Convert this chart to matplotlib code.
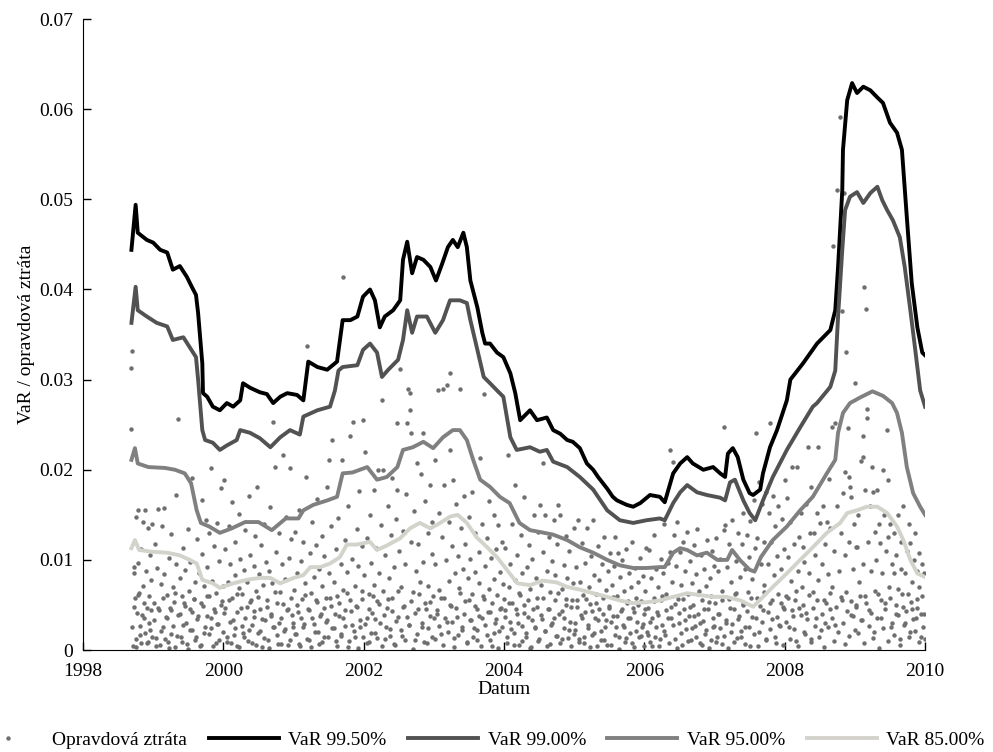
"""
VaR estimates at four confidence levels against the realised daily loss.
Dates are decimal years, losses in basis points for the dot series.
"""
import matplotlib
matplotlib.use("Agg")
import matplotlib.pyplot as plt
from matplotlib.ticker import FuncFormatter
import numpy as np

# realised daily losses (only loss days are drawn)
loss_date = [
    1998.68, 1998.69, 1998.70, 1998.71, 1998.72, 1998.73, 1998.74, 1998.75, 1998.76, 1998.77,
    1998.78, 1998.79, 1998.80, 1998.81, 1998.82, 1998.83, 1998.85, 1998.86, 1998.87, 1998.88,
    1998.89, 1998.90, 1998.91, 1998.92, 1998.93, 1998.94, 1998.95, 1998.96, 1998.97, 1998.98,
    1999.01, 1999.02, 1999.04, 1999.05, 1999.07, 1999.08, 1999.09, 1999.11, 1999.12, 1999.14,
    1999.15, 1999.16, 1999.18, 1999.19, 1999.21, 1999.22, 1999.24, 1999.25, 1999.26, 1999.28,
    1999.29, 1999.31, 1999.32, 1999.33, 1999.35, 1999.36, 1999.38, 1999.39, 1999.41, 1999.42,
    1999.43, 1999.45, 1999.46, 1999.48, 1999.49, 1999.51, 1999.52, 1999.53, 1999.55, 1999.56,
    1999.58, 1999.59, 1999.60, 1999.62, 1999.63, 1999.65, 1999.66, 1999.68, 1999.69, 1999.70,
    1999.72, 1999.73, 1999.75, 1999.76, 1999.77, 1999.79, 1999.80, 1999.82, 1999.83, 1999.84,
    1999.86, 1999.87, 1999.89, 1999.90, 1999.91, 1999.93, 1999.94, 1999.96, 1999.97, 1999.99,
    2000.01, 2000.02, 2000.03, 2000.05, 2000.06, 2000.08, 2000.09, 2000.10, 2000.12, 2000.13,
    2000.15, 2000.16, 2000.17, 2000.19, 2000.20, 2000.22, 2000.23, 2000.24, 2000.26, 2000.27,
    2000.29, 2000.30, 2000.31, 2000.33, 2000.34, 2000.36, 2000.37, 2000.38, 2000.40, 2000.41,
    2000.43, 2000.44, 2000.45, 2000.47, 2000.48, 2000.50, 2000.51, 2000.52, 2000.54, 2000.55,
    2000.57, 2000.58, 2000.59, 2000.61, 2000.62, 2000.64, 2000.65, 2000.66, 2000.68, 2000.69,
    2000.71, 2000.72, 2000.74, 2000.75, 2000.76, 2000.78, 2000.79, 2000.81, 2000.82, 2000.83,
    2000.85, 2000.86, 2000.88, 2000.89, 2000.90, 2000.92, 2000.93, 2000.95, 2000.96, 2000.97,
    2000.99,
    2001.01, 2001.02, 2001.04, 2001.05, 2001.07, 2001.08, 2001.09, 2001.11, 2001.12, 2001.14,
    2001.15, 2001.16, 2001.18, 2001.19, 2001.20, 2001.22, 2001.23, 2001.25, 2001.26, 2001.27,
    2001.29, 2001.30, 2001.32, 2001.33, 2001.34, 2001.36, 2001.37, 2001.39, 2001.40, 2001.41,
    2001.43, 2001.44, 2001.46, 2001.47, 2001.48, 2001.50, 2001.51, 2001.53, 2001.54, 2001.55,
    2001.57, 2001.58, 2001.60, 2001.61, 2001.62, 2001.64, 2001.65, 2001.67, 2001.68, 2001.69,
    2001.70, 2001.71, 2001.73, 2001.74, 2001.76, 2001.77, 2001.78, 2001.80, 2001.81, 2001.83,
    2001.84, 2001.85, 2001.87, 2001.88, 2001.90, 2001.91, 2001.92, 2001.94, 2001.95, 2001.97,
    2001.98, 2001.99,
    2002.01, 2002.02, 2002.04, 2002.05, 2002.07, 2002.08, 2002.09, 2002.11, 2002.12, 2002.14,
    2002.15, 2002.16, 2002.18, 2002.19, 2002.20, 2002.22, 2002.23, 2002.25, 2002.26, 2002.27,
    2002.28, 2002.30, 2002.31, 2002.33, 2002.34, 2002.36, 2002.37, 2002.39, 2002.40, 2002.41,
    2002.43, 2002.44, 2002.46, 2002.47, 2002.47, 2002.49, 2002.50, 2002.52, 2002.53, 2002.54,
    2002.56, 2002.57, 2002.59, 2002.60, 2002.61, 2002.63, 2002.64, 2002.66, 2002.66, 2002.67,
    2002.68, 2002.70, 2002.71, 2002.73, 2002.74, 2002.76, 2002.77, 2002.78, 2002.80, 2002.81,
    2002.83, 2002.84, 2002.85, 2002.87, 2002.88, 2002.90, 2002.91, 2002.92, 2002.94, 2002.95,
    2002.97, 2002.98, 2002.99,
    2003.01, 2003.02, 2003.04, 2003.06, 2003.07, 2003.08, 2003.10, 2003.11, 2003.13, 2003.14,
    2003.15, 2003.17, 2003.18, 2003.19, 2003.21, 2003.22, 2003.23, 2003.23, 2003.25, 2003.26,
    2003.27, 2003.29, 2003.30, 2003.32, 2003.33, 2003.34, 2003.36, 2003.37, 2003.38, 2003.40,
    2003.41, 2003.43, 2003.44, 2003.45, 2003.47, 2003.48, 2003.50, 2003.51, 2003.52, 2003.54,
    2003.55, 2003.57, 2003.58, 2003.59, 2003.61, 2003.62, 2003.64, 2003.65, 2003.66, 2003.68,
    2003.69, 2003.71, 2003.72, 2003.73, 2003.75, 2003.76, 2003.78, 2003.79, 2003.80, 2003.82,
    2003.83, 2003.85, 2003.86, 2003.87, 2003.89, 2003.90, 2003.92, 2003.93, 2003.94, 2003.96,
    2003.97, 2003.99,
    2004.01, 2004.02, 2004.04, 2004.05, 2004.07, 2004.08, 2004.09, 2004.11, 2004.12, 2004.14,
    2004.15, 2004.16, 2004.18, 2004.19, 2004.21, 2004.22, 2004.24, 2004.25, 2004.26, 2004.28,
    2004.29, 2004.31, 2004.32, 2004.34, 2004.35, 2004.37, 2004.38, 2004.40, 2004.41, 2004.42,
    2004.44, 2004.45, 2004.47, 2004.48, 2004.49, 2004.51, 2004.52, 2004.54, 2004.55, 2004.56,
    2004.58, 2004.59, 2004.61, 2004.62, 2004.64, 2004.65, 2004.66, 2004.68, 2004.69, 2004.71,
    2004.72, 2004.73, 2004.75, 2004.76, 2004.77, 2004.79, 2004.80, 2004.82, 2004.83, 2004.85,
    2004.86, 2004.88, 2004.89, 2004.90, 2004.92, 2004.93, 2004.95, 2004.96, 2004.98, 2004.99,
    2005.01, 2005.02, 2005.04, 2005.05, 2005.07, 2005.08, 2005.09, 2005.11, 2005.12, 2005.14,
    2005.15, 2005.16, 2005.18, 2005.19, 2005.21, 2005.22, 2005.24, 2005.25, 2005.27, 2005.28,
    2005.29, 2005.31, 2005.32, 2005.34, 2005.35, 2005.36, 2005.38, 2005.39, 2005.41, 2005.42,
    2005.43, 2005.45, 2005.46, 2005.48, 2005.49, 2005.51, 2005.52, 2005.54, 2005.55, 2005.56,
    2005.58, 2005.59, 2005.61, 2005.62, 2005.64, 2005.65, 2005.66, 2005.68, 2005.69, 2005.71,
    2005.72, 2005.74, 2005.75, 2005.76, 2005.78, 2005.79, 2005.81, 2005.82, 2005.84, 2005.85,
    2005.86, 2005.88, 2005.89, 2005.91, 2005.92, 2005.94, 2005.95, 2005.96, 2005.98, 2005.99,
    2006.01, 2006.02, 2006.04, 2006.05, 2006.07, 2006.08, 2006.10, 2006.11, 2006.13, 2006.14,
    2006.15, 2006.17, 2006.18, 2006.20, 2006.21, 2006.23, 2006.24, 2006.25, 2006.27, 2006.28,
    2006.30, 2006.31, 2006.33, 2006.34, 2006.36, 2006.37, 2006.38, 2006.40, 2006.41, 2006.42,
    2006.44, 2006.45, 2006.46, 2006.48, 2006.49, 2006.51, 2006.52, 2006.54, 2006.55, 2006.56,
    2006.58, 2006.59, 2006.61, 2006.62, 2006.64, 2006.65, 2006.66, 2006.68, 2006.69, 2006.71,
    2006.72, 2006.74, 2006.75, 2006.76, 2006.78, 2006.79, 2006.81, 2006.82, 2006.84, 2006.85,
    2006.86, 2006.88, 2006.89, 2006.91, 2006.92, 2006.94, 2006.95, 2006.96, 2006.98, 2006.99,
    2007.01, 2007.02, 2007.04, 2007.05, 2007.07, 2007.08, 2007.10, 2007.11, 2007.13, 2007.14,
    2007.15, 2007.17, 2007.18, 2007.20, 2007.21, 2007.23, 2007.24, 2007.25, 2007.27, 2007.28,
    2007.30, 2007.31, 2007.33, 2007.34, 2007.36, 2007.37, 2007.39, 2007.40, 2007.41, 2007.43,
    2007.44, 2007.46, 2007.47, 2007.49, 2007.50, 2007.51, 2007.53, 2007.54, 2007.56, 2007.57,
    2007.59, 2007.60, 2007.61, 2007.63, 2007.64, 2007.66, 2007.67, 2007.69, 2007.70, 2007.71,
    2007.73, 2007.74, 2007.76, 2007.77, 2007.79, 2007.79, 2007.80, 2007.82, 2007.83, 2007.84,
    2007.86, 2007.87, 2007.89, 2007.90, 2007.91, 2007.93, 2007.94, 2007.96, 2007.97, 2007.99,
    2008.01, 2008.02, 2008.03, 2008.05, 2008.06, 2008.08, 2008.09, 2008.10, 2008.12, 2008.13,
    2008.15, 2008.16, 2008.17, 2008.19, 2008.20, 2008.21, 2008.23, 2008.24, 2008.26, 2008.27,
    2008.28, 2008.30, 2008.31, 2008.33, 2008.34, 2008.36, 2008.37, 2008.38, 2008.40, 2008.41,
    2008.43, 2008.44, 2008.46, 2008.47, 2008.48, 2008.50, 2008.51, 2008.53, 2008.54, 2008.56,
    2008.57, 2008.58, 2008.60, 2008.61, 2008.63, 2008.64, 2008.65, 2008.67, 2008.68, 2008.69,
    2008.70, 2008.72, 2008.72, 2008.74, 2008.75, 2008.77, 2008.79, 2008.80, 2008.82, 2008.82,
    2008.83, 2008.85, 2008.86, 2008.86, 2008.87, 2008.88, 2008.90, 2008.91, 2008.92, 2008.93,
    2008.94, 2008.95, 2008.97, 2008.99,
    2009.00, 2009.01, 2009.02, 2009.03, 2009.05, 2009.06, 2009.08, 2009.09, 2009.11, 2009.12,
    2009.12, 2009.13, 2009.14, 2009.15, 2009.16, 2009.17, 2009.17, 2009.19, 2009.20, 2009.22,
    2009.23, 2009.24, 2009.26, 2009.27, 2009.29, 2009.30, 2009.31, 2009.33, 2009.34, 2009.36,
    2009.37, 2009.39, 2009.40, 2009.42, 2009.43, 2009.44, 2009.46, 2009.47, 2009.47, 2009.49,
    2009.50, 2009.52, 2009.53, 2009.55, 2009.56, 2009.58, 2009.59, 2009.61, 2009.62, 2009.64,
    2009.65, 2009.66, 2009.68, 2009.69, 2009.71, 2009.72, 2009.74, 2009.75, 2009.77, 2009.78,
    2009.79, 2009.81, 2009.82, 2009.84, 2009.85, 2009.87, 2009.88, 2009.89, 2009.91, 2009.92,
    2009.94, 2009.95, 2009.96, 2009.98, 2009.99,
]
loss_bp = [
    313, 245, 332, 4, 86, 92, 58, 12, 148, 41, 97, 155, 63, 27, 112, 8, 142, 71, 35, 19,
    155, 88, 47, 135, 9, 60, 105, 22, 78, 140,
    52, 118, 13, 91, 157, 44, 6, 73, 138, 26, 84, 158, 37, 61, 9, 102, 47, 129, 18, 70,
    53, 3, 95, 172, 256, 39, 80, 15, 60, 113, 28, 49, 89, 7, 134, 66, 22, 98, 42, 191,
    57, 11, 75, 123, 34, 86, 4, 52, 166, 107, 19, 71, 144, 38, 92, 60, 130, 24, 202, 77,
    45, 115, 8, 63, 141, 29, 99, 180, 50, 71,
    189, 47, 112, 9, 76, 138, 31, 95, 58, 164, 17, 83, 120, 42, 5, 69, 151, 101, 27, 62,
    89, 14, 133, 48, 76, 171, 22, 105, 55, 8, 93, 37, 126, 66, 181, 19, 84, 45, 117, 3,
    72, 140, 33, 98, 56, 11, 88, 159, 40, 74, 253, 25, 203, 109, 52, 7, 130, 64, 35, 96,
    216, 21, 79, 148, 44, 6, 102, 202, 58, 123, 30,
    67, 131, 18, 86, 42, 155, 5, 99, 57, 120, 29, 74, 192, 337, 46, 11, 108, 63, 142, 36,
    81, 20, 117, 53, 168, 7, 90, 40, 126, 71, 15, 104, 58, 181, 33, 211, 85, 49, 138, 233,
    24, 76, 10, 112, 60, 147, 38, 95, 18, 211, 414, 67, 122, 44, 87, 3, 160, 238, 55, 28,
    101, 253, 71, 14, 134, 48, 93, 176, 26, 66, 115, 255,
    83, 220, 35, 124, 62, 9, 150, 97, 41, 178, 72, 19, 113, 54, 200, 86, 30, 139, 277, 66,
    200, 12, 105, 47, 160, 80, 23, 128, 58, 191, 92, 6, 145, 252, 178, 37, 110, 312, 70, 16,
    132, 49, 95, 173, 252, 290, 28, 285, 266, 241, 120, 64, 154, 11, 88, 207, 45, 118, 76, 195,
    25, 98, 241, 52, 165, 8, 130, 71, 183, 38, 107, 142, 60,
    211, 95, 40, 289, 152, 67, 18, 125, 290, 58, 183, 100, 31, 294, 77, 142, 307, 222, 49, 115,
    189, 13, 86, 162, 37, 104, 69, 290, 135, 22, 90, 171, 54, 118, 8, 80, 148, 33, 101, 62,
    175, 24, 87, 130, 46, 11, 109, 74, 213, 36, 140, 284, 57, 93, 17, 124, 68, 165, 42, 102,
    5, 79, 150, 30, 112, 61, 139, 21, 87, 47, 120, 73,
    44, 113, 8, 216, 70, 31, 96, 52, 140, 19, 78, 183, 40, 105, 6, 63, 128, 27, 85, 50,
    170, 14, 92, 37, 117, 68, 3, 101, 45, 150, 24, 80, 58, 131, 10, 161, 72, 34, 109, 207,
    150, 21, 88, 46, 125, 64, 7, 99, 30, 144, 55, 83, 16, 118, 161, 40, 150, 68, 12, 94,
    35, 127, 57, 80, 22, 110, 48, 5, 74, 135,
    30, 92, 55, 144, 12, 76, 39, 119, 61, 8, 97, 42, 135, 24, 70, 51, 104, 17, 144, 83,
    35, 62, 4, 115, 46, 78, 21, 96, 58, 125, 11, 67, 33, 88, 49, 108, 6, 72, 38, 93,
    125, 26, 60, 108, 15, 81, 43, 100, 28, 65, 9, 112, 52, 36, 85, 19, 70, 120, 47, 3,
    91, 58, 31, 76, 14, 102, 54, 25, 82, 40,
    66, 113, 20, 47, 111, 9, 80, 36, 58, 128, 14, 90, 42, 70, 4, 101, 55, 28, 85, 140,
    17, 62, 97, 35, 109, 222, 48, 75, 209, 128, 12, 93, 142, 57, 30, 109, 72, 6, 120, 45,
    88, 23, 131, 62, 38, 99, 11, 74, 50, 117, 27, 84, 134, 40, 66, 8, 105, 55, 32, 90,
    18, 71, 122, 45, 2, 80, 60, 110, 26, 93,
    52, 124, 15, 88, 40, 101, 66, 7, 133, 248, 139, 30, 92, 57, 118, 20, 75, 144, 45, 9,
    99, 63, 130, 34, 81, 15, 118, 50, 152, 90, 26, 128, 64, 103, 5, 143, 79, 37, 167, 113,
    241, 124, 58, 186, 20, 95, 162, 44, 120, 72, 175, 12, 96, 152, 252, 52, 120, 34, 171, 83,
    138, 8, 104, 62, 160, 27, 90, 145, 48, 112,
    189, 60, 169, 103, 25, 142, 77, 203, 38, 118, 55, 10, 203, 88, 125, 47, 152, 70, 114, 20,
    98, 162, 41, 225, 85, 130, 181, 12, 64, 130, 105, 36, 152, 225, 78, 141, 22, 96, 160, 55,
    118, 30, 142, 84, 190, 45, 135, 247, 70, 448, 110, 252, 28, 510, 160, 88, 591, 130, 376, 55,
    174, 507, 105, 197, 331, 64, 246, 192, 120, 181, 39, 170, 90, 140,
    296, 114, 50, 114, 150, 75, 210, 33, 214, 238, 96, 403, 178, 60, 378, 267, 257, 120, 44, 160,
    88, 203, 175, 20, 131, 100, 178, 62, 140, 119, 35, 85, 200, 150, 52, 110, 244, 189, 125, 70,
    140, 25, 95, 85, 130, 40, 105, 68, 150, 12, 90, 120, 48, 160, 85, 30, 110, 62, 140, 20,
    119, 75, 45, 100, 130, 35, 88, 57, 108, 70, 15, 95, 60, 40, 85,
]

# small losses in between, the dense band near zero
small_loss_date = [
    1998.695, 1998.725, 1998.755, 1998.785, 1998.815, 1998.845, 1998.875, 1998.905, 1998.935, 1998.965, 1998.985,
    1999.015, 1999.045, 1999.075, 1999.105, 1999.135, 1999.165, 1999.195, 1999.225, 1999.255, 1999.285,
    1999.315, 1999.345, 1999.375, 1999.405, 1999.435, 1999.465, 1999.495, 1999.525, 1999.555, 1999.585,
    1999.615, 1999.645, 1999.675, 1999.705, 1999.735, 1999.765, 1999.795, 1999.825, 1999.855, 1999.885,
    1999.915, 1999.945, 1999.975, 1999.995,
    2000.015, 2000.045, 2000.075, 2000.105, 2000.135, 2000.165, 2000.195, 2000.225, 2000.255, 2000.285,
    2000.315, 2000.345, 2000.375, 2000.405, 2000.435, 2000.465, 2000.495, 2000.525, 2000.555, 2000.585,
    2000.615, 2000.645, 2000.675, 2000.705, 2000.735, 2000.765, 2000.795, 2000.825, 2000.855, 2000.885,
    2000.915, 2000.945, 2000.975, 2000.995,
    2001.015, 2001.045, 2001.075, 2001.105, 2001.135, 2001.165, 2001.195, 2001.225, 2001.255, 2001.285,
    2001.315, 2001.345, 2001.375, 2001.405, 2001.435, 2001.465, 2001.495, 2001.525, 2001.555, 2001.585,
    2001.615, 2001.645, 2001.675, 2001.705, 2001.735, 2001.765, 2001.795, 2001.825, 2001.855, 2001.885,
    2001.915, 2001.945, 2001.975, 2001.995,
    2002.015, 2002.045, 2002.075, 2002.105, 2002.135, 2002.165, 2002.195, 2002.225, 2002.255, 2002.285,
    2002.315, 2002.345, 2002.375, 2002.405, 2002.435, 2002.465, 2002.495, 2002.525, 2002.555, 2002.585,
    2002.615, 2002.645, 2002.675, 2002.705, 2002.735, 2002.765, 2002.795, 2002.825, 2002.855, 2002.885,
    2002.915, 2002.945, 2002.975, 2002.995,
    2003.015, 2003.045, 2003.075, 2003.105, 2003.135, 2003.165, 2003.195, 2003.225, 2003.255, 2003.285,
    2003.315, 2003.345, 2003.375, 2003.405, 2003.435, 2003.465, 2003.495, 2003.525, 2003.555, 2003.585,
    2003.615, 2003.645, 2003.675, 2003.705, 2003.735, 2003.765, 2003.795, 2003.825, 2003.855, 2003.885,
    2003.915, 2003.945, 2003.975, 2003.995,
    2004.015, 2004.045, 2004.075, 2004.105, 2004.135, 2004.165, 2004.195, 2004.225, 2004.255, 2004.285,
    2004.315, 2004.345, 2004.375, 2004.405, 2004.435, 2004.465, 2004.495, 2004.525, 2004.555, 2004.585,
    2004.615, 2004.645, 2004.675, 2004.705, 2004.735, 2004.765, 2004.795, 2004.825, 2004.855, 2004.885,
    2004.915, 2004.945, 2004.975, 2004.995,
    2005.015, 2005.045, 2005.075, 2005.105, 2005.135, 2005.165, 2005.195, 2005.225, 2005.255, 2005.285,
    2005.315, 2005.345, 2005.375, 2005.405, 2005.435, 2005.465, 2005.495, 2005.525, 2005.555, 2005.585,
    2005.615, 2005.645, 2005.675, 2005.705, 2005.735, 2005.765, 2005.795, 2005.825, 2005.855, 2005.885,
    2005.915, 2005.945, 2005.975, 2005.995,
    2006.015, 2006.045, 2006.075, 2006.105, 2006.135, 2006.165, 2006.195, 2006.225, 2006.255, 2006.285,
    2006.315, 2006.345, 2006.375, 2006.405, 2006.435, 2006.465, 2006.495, 2006.525, 2006.555, 2006.585,
    2006.615, 2006.645, 2006.675, 2006.705, 2006.735, 2006.765, 2006.795, 2006.825, 2006.855, 2006.885,
    2006.915, 2006.945, 2006.975, 2006.995,
    2007.015, 2007.045, 2007.075, 2007.105, 2007.135, 2007.165, 2007.195, 2007.225, 2007.255, 2007.285,
    2007.315, 2007.345, 2007.375, 2007.405, 2007.435, 2007.465, 2007.495, 2007.525, 2007.555, 2007.585,
    2007.615, 2007.645, 2007.675, 2007.705, 2007.735, 2007.765, 2007.795, 2007.825, 2007.855, 2007.885,
    2007.915, 2007.945, 2007.975, 2007.995,
    2008.015, 2008.045, 2008.075, 2008.105, 2008.135, 2008.165, 2008.195, 2008.225, 2008.255, 2008.285,
    2008.315, 2008.345, 2008.375, 2008.405, 2008.435, 2008.465, 2008.495, 2008.525, 2008.555, 2008.585,
    2008.615, 2008.645, 2008.675, 2008.705, 2008.735, 2008.765, 2008.795, 2008.825, 2008.855, 2008.885,
    2008.915, 2008.945, 2008.975, 2008.995,
    2009.015, 2009.045, 2009.075, 2009.105, 2009.135, 2009.165, 2009.195, 2009.225, 2009.255, 2009.285,
    2009.315, 2009.345, 2009.375, 2009.405, 2009.435, 2009.465, 2009.495, 2009.525, 2009.555, 2009.585,
    2009.615, 2009.645, 2009.675, 2009.705, 2009.735, 2009.765, 2009.795, 2009.825, 2009.855, 2009.885,
    2009.915, 2009.945, 2009.975, 2009.995,
]
small_loss_bp = [
    25, 48, 3, 61, 17, 39, 52, 8, 30, 44, 14,
    33, 5, 47, 21, 58, 12, 36, 2, 44, 27, 63, 16, 40, 9, 52, 30, 1, 45, 22, 57,
    14, 38, 6, 49, 26, 60, 18, 35, 4, 42, 29, 11, 54, 20,
    41, 15, 56, 8, 33, 24, 62, 3, 47, 19, 36, 10, 53, 28, 43, 6, 59, 21, 34, 13,
    48, 2, 38, 25, 64, 17, 30, 7, 51, 23, 45, 11, 39, 26,
    18, 50, 7, 35, 26, 61, 12, 44, 3, 29, 55, 20, 38, 9, 47, 31, 14, 58, 24, 40,
    5, 52, 16, 36, 27, 63, 10, 43, 21, 49, 2, 33, 57, 15,
    29, 8, 46, 19, 60, 34, 13, 51, 4, 39, 25, 57, 16, 43, 7, 32, 65, 22, 48, 11,
    37, 28, 54, 1, 41, 18, 62, 30, 9, 45, 24, 53, 14, 36,
    12, 44, 27, 58, 6, 35, 20, 50, 31, 3, 47, 17, 63, 25, 40, 9, 55, 33, 15, 49,
    22, 38, 5, 60, 28, 42, 11, 52, 19, 34, 2, 46, 26, 57,
    37, 14, 52, 23, 6, 45, 30, 61, 10, 41, 19, 55, 2, 33, 26, 48, 12, 39, 58, 21,
    4, 46, 28, 35, 16, 63, 8, 43, 24, 50, 13, 31, 56, 18,
    22, 48, 9, 36, 15, 57, 28, 3, 43, 19, 52, 33, 11, 40, 25, 6, 47, 31, 59, 17,
    38, 1, 45, 26, 13, 54, 35, 8, 42, 21, 50, 16, 29, 4,
    46, 17, 31, 5, 54, 25, 39, 12, 60, 21, 44, 8, 35, 28, 51, 2, 41, 19, 57, 33,
    10, 48, 24, 38, 14, 62, 30, 6, 45, 22, 53, 11, 36, 27,
    9, 40, 24, 55, 16, 33, 2, 47, 29, 62, 13, 38, 21, 51, 7, 43, 26, 58, 18, 35,
    4, 49, 31, 64, 11, 42, 23, 56, 15, 37, 28, 52, 6, 45,
    31, 58, 12, 44, 23, 66, 5, 39, 50, 18, 34, 61, 9, 47, 27, 55, 14, 40, 3, 52,
    25, 63, 36, 10, 48, 20, 59, 30, 7, 43, 16, 54, 38, 22,
    48, 19, 60, 33, 8, 52, 27, 41, 13, 65, 36, 2, 55, 24, 45, 10, 58, 30, 17, 50,
    39, 6, 62, 28, 43, 15, 53, 34, 21, 47, 9, 40, 26, 12,
]

# VaR estimates, breakpoints of each curve
var995_t = [1998.69, 1998.75, 1998.78, 1998.91, 1999.00, 1999.10, 1999.20, 1999.28, 1999.38, 1999.48,
            1999.55, 1999.61, 1999.64, 1999.70, 1999.71, 1999.77, 1999.85, 1999.95, 2000.05, 2000.14,
            2000.24, 2000.28, 2000.38, 2000.52, 2000.62, 2000.71, 2000.81, 2000.91, 2001.05, 2001.14,
            2001.21, 2001.34, 2001.48, 2001.62, 2001.70, 2001.81, 2001.91, 2001.99, 2002.09, 2002.16,
            2002.23, 2002.30, 2002.42, 2002.52, 2002.56, 2002.62, 2002.69, 2002.76, 2002.85, 2002.95,
            2003.03, 2003.12, 2003.20, 2003.27, 2003.34, 2003.42, 2003.47, 2003.52, 2003.62, 2003.69,
            2003.73, 2003.80, 2003.90, 2003.99, 2004.09, 2004.16, 2004.23, 2004.37, 2004.47, 2004.61,
            2004.70, 2004.80, 2004.90, 2004.98, 2005.08, 2005.18, 2005.27, 2005.34, 2005.47, 2005.55,
            2005.61, 2005.75, 2005.84, 2005.94, 2006.08, 2006.22, 2006.29, 2006.41, 2006.51, 2006.61,
            2006.69, 2006.84, 2006.98, 2007.08, 2007.15, 2007.19, 2007.26, 2007.33, 2007.41, 2007.50,
            2007.55, 2007.65, 2007.69, 2007.79, 2007.89, 2008.03, 2008.08, 2008.26, 2008.46, 2008.65,
            2008.72, 2008.76, 2008.82, 2008.83, 2008.89, 2008.96, 2009.03, 2009.12, 2009.22, 2009.32,
            2009.40, 2009.50, 2009.60, 2009.67, 2009.74, 2009.81, 2009.89, 2009.96, 2010.00]
var995_v = [0.0444, 0.0494, 0.0463, 0.0455, 0.0452, 0.0444, 0.0441, 0.0422, 0.0426, 0.0414,
            0.0403, 0.0394, 0.0374, 0.0318, 0.0285, 0.0281, 0.0270, 0.0266, 0.0274, 0.0270,
            0.0277, 0.0296, 0.0291, 0.0286, 0.0284, 0.0274, 0.0281, 0.0285, 0.0283, 0.0277,
            0.0320, 0.0314, 0.0311, 0.0320, 0.0366, 0.0366, 0.0370, 0.0392, 0.0400, 0.0388,
            0.0358, 0.0370, 0.0377, 0.0388, 0.0433, 0.0453, 0.0418, 0.0436, 0.0433, 0.0425,
            0.0410, 0.0429, 0.0447, 0.0455, 0.0447, 0.0463, 0.0447, 0.0410, 0.0380, 0.0352,
            0.0340, 0.0340, 0.0330, 0.0325, 0.0307, 0.0285, 0.0255, 0.0266, 0.0255, 0.0258,
            0.0244, 0.0240, 0.0233, 0.0231, 0.0224, 0.0207, 0.0200, 0.0192, 0.0179, 0.0170,
            0.0166, 0.0161, 0.0159, 0.0163, 0.0172, 0.0170, 0.0164, 0.0196, 0.0207, 0.0214,
            0.0207, 0.0200, 0.0203, 0.0196, 0.0192, 0.0218, 0.0224, 0.0214, 0.0189, 0.0174,
            0.0172, 0.0178, 0.0196, 0.0225, 0.0244, 0.0277, 0.0300, 0.0318, 0.0340, 0.0355,
            0.0377, 0.0425, 0.0510, 0.0555, 0.0610, 0.0629, 0.0618, 0.0625, 0.0621, 0.0613,
            0.0607, 0.0585, 0.0574, 0.0555, 0.0480, 0.0407, 0.0358, 0.0330, 0.0327]

var990_t = [1998.69, 1998.75, 1998.78, 1998.91, 1999.05, 1999.20, 1999.28, 1999.43, 1999.52, 1999.61,
            1999.64, 1999.70, 1999.74, 1999.85, 1999.95, 2000.05, 2000.19, 2000.24, 2000.38, 2000.52,
            2000.67, 2000.81, 2000.95, 2001.09, 2001.14, 2001.34, 2001.52, 2001.59, 2001.64, 2001.70,
            2001.91, 2001.99, 2002.09, 2002.19, 2002.26, 2002.35, 2002.49, 2002.56, 2002.62, 2002.69,
            2002.76, 2002.90, 2003.02, 2003.13, 2003.23, 2003.37, 2003.47, 2003.52, 2003.62, 2003.71,
            2003.80, 2003.90, 2003.99, 2004.09, 2004.18, 2004.37, 2004.51, 2004.61, 2004.70, 2004.90,
            2005.08, 2005.27, 2005.47, 2005.65, 2005.84, 2006.03, 2006.22, 2006.29, 2006.41, 2006.51,
            2006.61, 2006.75, 2006.89, 2007.08, 2007.15, 2007.22, 2007.29, 2007.41, 2007.50, 2007.58,
            2007.69, 2007.83, 2008.03, 2008.22, 2008.40, 2008.46, 2008.65, 2008.72, 2008.76, 2008.82,
            2008.86, 2008.93, 2009.03, 2009.12, 2009.22, 2009.32, 2009.39, 2009.46, 2009.54, 2009.64,
            2009.71, 2009.79, 2009.86, 2009.93, 2010.00]
var990_v = [0.0363, 0.0403, 0.0377, 0.0370, 0.0363, 0.0359, 0.0344, 0.0347, 0.0336, 0.0325,
            0.0300, 0.0244, 0.0233, 0.0230, 0.0222, 0.0227, 0.0233, 0.0244, 0.0241, 0.0235,
            0.0225, 0.0236, 0.0244, 0.0239, 0.0259, 0.0266, 0.0270, 0.0288, 0.0310, 0.0314,
            0.0316, 0.0333, 0.0340, 0.0330, 0.0303, 0.0311, 0.0322, 0.0344, 0.0377, 0.0352,
            0.0370, 0.0370, 0.0352, 0.0366, 0.0388, 0.0388, 0.0385, 0.0366, 0.0333, 0.0303,
            0.0296, 0.0288, 0.0281, 0.0236, 0.0222, 0.0225, 0.0220, 0.0222, 0.0209, 0.0203,
            0.0192, 0.0178, 0.0155, 0.0144, 0.0141, 0.0144, 0.0146, 0.0144, 0.0163, 0.0175,
            0.0183, 0.0175, 0.0172, 0.0169, 0.0166, 0.0186, 0.0189, 0.0166, 0.0152, 0.0144,
            0.0166, 0.0192, 0.0222, 0.0247, 0.0270, 0.0274, 0.0292, 0.0310, 0.0370, 0.0444,
            0.0488, 0.0503, 0.0508, 0.0496, 0.0507, 0.0514, 0.0499, 0.0488, 0.0477, 0.0458,
            0.0425, 0.0377, 0.0333, 0.0288, 0.0270]

var950_t = [1998.69, 1998.74, 1998.78, 1998.93, 1999.17, 1999.31, 1999.45, 1999.54, 1999.62, 1999.68,
            1999.80, 1999.95, 2000.12, 2000.31, 2000.50, 2000.69, 2000.89, 2001.07, 2001.14, 2001.28,
            2001.48, 2001.62, 2001.70, 2001.84, 2002.05, 2002.19, 2002.33, 2002.48, 2002.56, 2002.70,
            2002.85, 2002.99, 2003.13, 2003.27, 2003.37, 2003.47, 2003.56, 2003.66, 2003.80, 2003.94,
            2004.08, 2004.22, 2004.37, 2004.51, 2004.70, 2004.90, 2005.08, 2005.27, 2005.47, 2005.65,
            2005.84, 2006.03, 2006.22, 2006.29, 2006.41, 2006.51, 2006.61, 2006.75, 2006.89, 2007.04,
            2007.18, 2007.25, 2007.36, 2007.50, 2007.57, 2007.66, 2007.83, 2008.03, 2008.22, 2008.40,
            2008.60, 2008.72, 2008.76, 2008.83, 2008.93, 2009.07, 2009.25, 2009.40, 2009.53, 2009.60,
            2009.67, 2009.74, 2009.83, 2009.93, 2010.00]
var950_v = [0.0211, 0.0224, 0.0207, 0.0203, 0.0202, 0.0200, 0.0196, 0.0185, 0.0155, 0.0141,
            0.0137, 0.0130, 0.0135, 0.0142, 0.0142, 0.0133, 0.0146, 0.0146, 0.0155, 0.0161,
            0.0166, 0.0170, 0.0196, 0.0197, 0.0203, 0.0189, 0.0192, 0.0203, 0.0222, 0.0225,
            0.0231, 0.0224, 0.0236, 0.0244, 0.0244, 0.0233, 0.0211, 0.0189, 0.0181, 0.0170,
            0.0163, 0.0141, 0.0133, 0.0131, 0.0128, 0.0122, 0.0114, 0.0108, 0.0100, 0.0094,
            0.0091, 0.0091, 0.0092, 0.0092, 0.0108, 0.0113, 0.0111, 0.0105, 0.0108, 0.0100,
            0.0100, 0.0111, 0.0100, 0.0089, 0.0087, 0.0103, 0.0122, 0.0137, 0.0155, 0.0170,
            0.0196, 0.0211, 0.0241, 0.0263, 0.0274, 0.0280, 0.0287, 0.0282, 0.0274, 0.0263,
            0.0241, 0.0203, 0.0174, 0.0159, 0.0150]

var850_t = [1998.69, 1998.74, 1998.80, 1998.99, 1999.20, 1999.38, 1999.52, 1999.62, 1999.70, 1999.85,
            1999.95, 2000.14, 2000.34, 2000.52, 2000.67, 2000.81, 2001.00, 2001.14, 2001.24, 2001.38,
            2001.52, 2001.66, 2001.76, 2001.90, 2002.09, 2002.19, 2002.33, 2002.52, 2002.66, 2002.80,
            2002.95, 2003.09, 2003.23, 2003.34, 2003.47, 2003.61, 2003.76, 2003.90, 2004.04, 2004.19,
            2004.37, 2004.55, 2004.75, 2004.90, 2005.08, 2005.27, 2005.47, 2005.65, 2005.84, 2006.03,
            2006.22, 2006.41, 2006.61, 2006.79, 2006.98, 2007.17, 2007.37, 2007.55, 2007.69, 2007.83,
            2008.03, 2008.22, 2008.40, 2008.60, 2008.79, 2008.89, 2009.03, 2009.17, 2009.32, 2009.46,
            2009.60, 2009.69, 2009.79, 2009.89, 2010.00]
var850_v = [0.0113, 0.0122, 0.0111, 0.0109, 0.0108, 0.0105, 0.0100, 0.0096, 0.0078, 0.0074,
            0.0069, 0.0074, 0.0078, 0.0080, 0.0080, 0.0074, 0.0080, 0.0083, 0.0092, 0.0092,
            0.0096, 0.0103, 0.0117, 0.0117, 0.0120, 0.0111, 0.0116, 0.0124, 0.0135, 0.0141,
            0.0135, 0.0141, 0.0148, 0.0150, 0.0141, 0.0125, 0.0114, 0.0103, 0.0089, 0.0074,
            0.0072, 0.0077, 0.0075, 0.0070, 0.0067, 0.0063, 0.0059, 0.0055, 0.0052, 0.0053,
            0.0055, 0.0059, 0.0063, 0.0061, 0.0059, 0.0059, 0.0055, 0.0048, 0.0059, 0.0070,
            0.0085, 0.0100, 0.0114, 0.0130, 0.0141, 0.0152, 0.0155, 0.0159, 0.0159, 0.0152,
            0.0137, 0.0122, 0.0100, 0.0085, 0.0081]

plt.rcParams["font.family"] = ["Liberation Serif", "DejaVu Serif"]
plt.rcParams["font.size"] = 14

fig = plt.figure(figsize=(9.93, 7.52), dpi=100)
ax = fig.add_axes([0.0836, 0.1356, 0.848, 0.839])

# dots: all loss days, in basis points -> fraction
dot_date = loss_date + small_loss_date
dot_loss = np.array(loss_bp + small_loss_bp) / 1e4
ax.plot(dot_date, dot_loss, linestyle="none", marker="o", markersize=3.2,
        markeredgewidth=0, color="#6f6f6f", label="Opravdová ztráta")
ax.plot(var995_t, var995_v, color="black", linewidth=2.8, label="VaR 99.50%")
ax.plot(var990_t, var990_v, color="#525252", linewidth=2.8, label="VaR 99.00%")
ax.plot(var950_t, var950_v, color="#808080", linewidth=2.8, label="VaR 95.00%")
ax.plot(var850_t, var850_v, color="#d3d3cc", linewidth=2.8, label="VaR 85.00%")

ax.set_xlim(1998, 2010)
ax.set_ylim(0, 0.07)
ax.set_xticks(np.arange(1998, 2011, 2))
ax.set_yticks(np.linspace(0, 0.07, 8))
ax.yaxis.set_major_formatter(FuncFormatter(lambda v, p: "0" if abs(v) < 1e-9 else f"{v:.2f}"))
ax.xaxis.set_major_formatter(FuncFormatter(lambda v, p: f"{v:.0f}"))
ax.tick_params(direction="in", length=6, width=1)
ax.tick_params(axis="x", pad=9)
ax.tick_params(axis="y", pad=7)
for side in ["top", "right"]:
    ax.spines[side].set_visible(False)
ax.set_xlabel("Datum", labelpad=1)
ax.set_ylabel("VaR / opravdová ztráta", labelpad=3)

fig.legend(loc="center", bbox_to_anchor=(0.482, 0.016), ncol=5, frameon=False,
           handlelength=3.6, handletextpad=0.5, columnspacing=1.1)

fig.savefig("out.png", dpi=100)
